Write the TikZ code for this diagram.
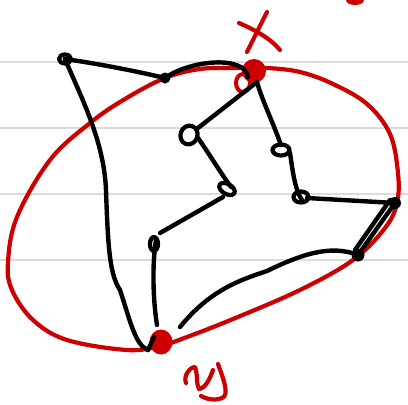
\documentclass[tikz,border=0pt]{standalone}
\begin{document}
\begin{tikzpicture}[x=1pt,y=-1pt,
  rule/.style={draw=black!14,line width=2.2pt},
  pen/.style={draw=black,line width=4.4pt,line cap=round,line join=round},
  redpen/.style={draw=red!80!black,line width=4.2pt,line cap=round,line join=round},
  loopy/.style={pen,line width=4.2pt},
  dotty/.style={fill=black},
  redblob/.style={fill=red!80!black}]
\useasboundingbox (0,0) rectangle (408,405);
% ruled lines
\foreach \yy in {62,128,194,260} \draw[rule] (0,\yy) -- (408,\yy);
% red curve
\draw[redpen] plot[smooth cycle,tension=0.6] coordinates {(165,78) (200,69) (235,68) (267,68) (300,72) (333,84) (367,104) (390,134) (398,173) (397,203) (385,228) (353,260) (300,290) (233,319) (187,337) (160,346) (127,350) (67,340) (33,320) (12,290) (8,262) (17,217) (50,160) (90,123) (125,99)};
% red blobs
\fill[redblob] (254,71) circle (12);
\draw[redpen,line width=4pt] (243,83) ellipse (7 and 9);
\fill[redblob] (161,342) ellipse (11.5 and 12.5);
% coordinates
\coordinate (A) at (65,59);
\coordinate (B) at (165,78);
\coordinate (X) at (248,77);
\coordinate (X2) at (257,82);
\coordinate (C) at (189,135);
\coordinate (D) at (281,150);
\coordinate (E) at (227,189);
\coordinate (F) at (301,197);
\coordinate (G) at (395,203);
\coordinate (H) at (358,255);
\coordinate (I) at (154,244);
\coordinate (J) at (157,325);
\coordinate (K) at (180,327);
\coordinate (Y) at (148,350);
% black edges
\draw[pen] (A) .. controls (100,64) and (140,72) .. (B);
\draw[pen] (B) .. controls (190,60) and (245,55) .. (X);
\draw[pen] (A) .. controls (80,95) and (104,140) .. (106,190) .. controls (108,250) and (110,275) .. (120,290) .. controls (130,320) and (135,345) .. (Y);
\draw[pen] (Y) -- (154,337);
\draw[pen] (X2) -- (198,128);
\draw[pen] (198,138) .. controls (210,155) and (220,172) .. (231,187);
\draw[pen] (223,197) -- (160,233);
\draw[pen] (156,240) .. controls (152,265) and (153,300) .. (J);
\draw[pen] (X2) .. controls (262,100) and (272,120) .. (281,145);
\draw[pen] (290,153) .. controls (293,173) and (295,190) .. (302,200);
\draw[pen] (307,198) -- (G);
\draw[pen] (G) -- (H);
\draw[pen] (390,200) -- (355,250);
\draw[pen] (H) .. controls (330,244) and (300,255) .. (267,271) .. controls (240,280) and (210,290) .. (K);
% loops
\draw[loopy] (A) ellipse (6 and 4.5);
\draw[loopy,rotate around={-20:(C)}] (C) ellipse (8.5 and 9.5);
\draw[loopy] (D) ellipse (8.5 and 5.5);
\draw[loopy,rotate around={-30:(E)}] (E) ellipse (8.5 and 5);
\draw[loopy] (F) ellipse (7.5 and 5.5);
\draw[loopy] (I) ellipse (4 and 7);
% dots
\fill[dotty] (B) circle (5.5);
\fill[dotty] (G) circle (6);
\fill[dotty] (H) circle (6.5);
% labels (handwritten)
\draw[redpen] (267,12) -- (247,52);
\draw[redpen] (239,23) .. controls (255,30) and (270,38) .. (280,50);
\draw[redpen] (186,383) .. controls (183,376) and (190,367) .. (195,367) .. controls (198,375) and (196,384) .. (199,389) .. controls (206,388) and (210,378) .. (213,370);
\draw[redpen] (218,364) .. controls (223,378) and (230,395) .. (222,398) .. controls (215,401) and (206,399) .. (201,396);
\fill[redblob] (355,0) ellipse (9 and 5);
\end{tikzpicture}
\end{document}
